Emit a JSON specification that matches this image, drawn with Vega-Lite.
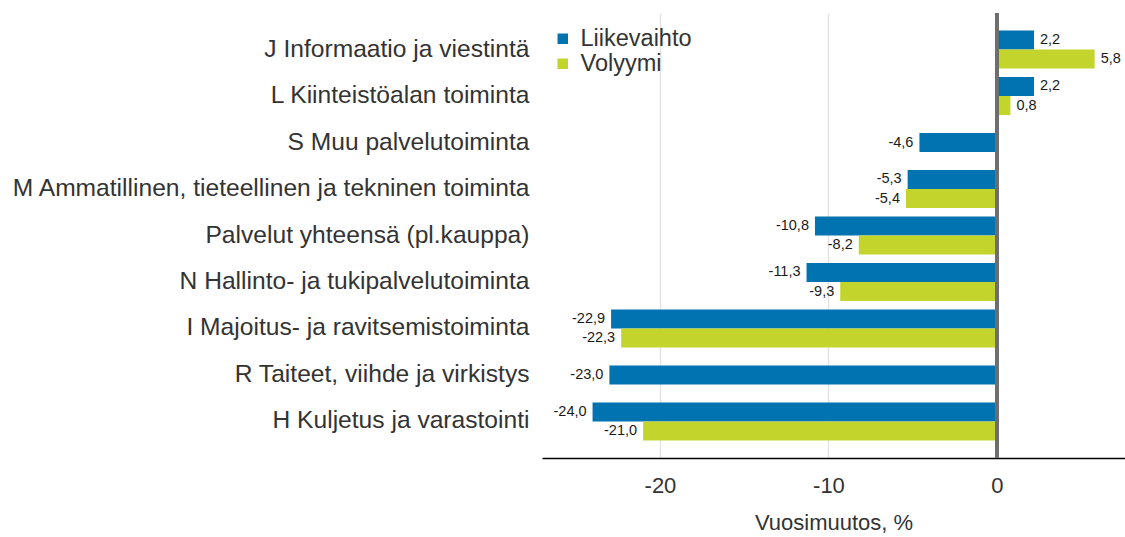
{
  "$schema": "https://vega.github.io/schema/vega-lite/v6.json",
  "autosize": {"type": "none"},
  "padding": {"left": 542, "top": 13, "right": 0, "bottom": 79},
  "width": 583,
  "height": 445,
  "config": {
    "font": "Liberation Sans",
    "view": {"stroke": null},
    "locale": {"number": {"decimal": ",", "thousands": "\u00a0", "grouping": [3], "currency": ["", "\u00a0€"], "minus": "-"}}
  },
  "data": {"values": [
    {"category": "J Informaatio ja viestintä", "series": "Liikevaihto", "value": 2.2},
    {"category": "J Informaatio ja viestintä", "series": "Volyymi", "value": 5.8},
    {"category": "L Kiinteistöalan toiminta", "series": "Liikevaihto", "value": 2.2},
    {"category": "L Kiinteistöalan toiminta", "series": "Volyymi", "value": 0.8},
    {"category": "S Muu palvelutoiminta", "series": "Liikevaihto", "value": -4.6},
    {"category": "M Ammatillinen, tieteellinen ja tekninen toiminta", "series": "Liikevaihto", "value": -5.3},
    {"category": "M Ammatillinen, tieteellinen ja tekninen toiminta", "series": "Volyymi", "value": -5.4},
    {"category": "Palvelut yhteensä (pl.kauppa)", "series": "Liikevaihto", "value": -10.8},
    {"category": "Palvelut yhteensä (pl.kauppa)", "series": "Volyymi", "value": -8.2},
    {"category": "N Hallinto- ja tukipalvelutoiminta", "series": "Liikevaihto", "value": -11.3},
    {"category": "N Hallinto- ja tukipalvelutoiminta", "series": "Volyymi", "value": -9.3},
    {"category": "I Majoitus- ja ravitsemistoiminta", "series": "Liikevaihto", "value": -22.9},
    {"category": "I Majoitus- ja ravitsemistoiminta", "series": "Volyymi", "value": -22.3},
    {"category": "R Taiteet, viihde ja virkistys", "series": "Liikevaihto", "value": -23.0},
    {"category": "H Kuljetus ja varastointi", "series": "Liikevaihto", "value": -24.0},
    {"category": "H Kuljetus ja varastointi", "series": "Volyymi", "value": -21.0}
  ]},
  "transform": [{"joinaggregate": [{"op": "count", "as": "n"}], "groupby": ["category"]}],
  "encoding": {
    "y": {
      "field": "category", "type": "nominal",
      "sort": ["J Informaatio ja viestintä", "L Kiinteistöalan toiminta", "S Muu palvelutoiminta", "M Ammatillinen, tieteellinen ja tekninen toiminta", "Palvelut yhteensä (pl.kauppa)", "N Hallinto- ja tukipalvelutoiminta", "I Majoitus- ja ravitsemistoiminta", "R Taiteet, viihde ja virkistys", "H Kuljetus ja varastointi"],
      "scale": {"paddingInner": 0.18, "paddingOuter": 0.375},
      "axis": {"title": null, "domain": false, "ticks": false, "labelFontSize": 24.6, "labelColor": "#333333", "labelPadding": 13, "labelLimit": 600}
    },
    "x": {
      "field": "value", "type": "quantitative",
      "scale": {"domain": [-27, 7.6], "nice": false, "zero": false},
      "axis": {"title": "Vuosimuutos, %", "values": [-20, -10, 0], "format": "d", "domainColor": "#000000", "domainWidth": 1.5, "ticks": false, "labelFontSize": 22, "labelColor": "#333333", "labelPadding": 17, "titleFontSize": 22, "titleFontWeight": "normal", "titleColor": "#333333", "titlePadding": 16, "gridColor": "#e3e3e3", "gridWidth": 1.5}
    },
    "color": {
      "field": "series", "type": "nominal",
      "scale": {"domain": ["Liikevaihto", "Volyymi"], "range": ["#0073b0", "#c3d52d"]},
      "legend": {"title": null, "orient": "none", "legendX": 9, "legendY": 14, "symbolType": "square", "symbolSize": 110, "symbolStrokeWidth": 0, "labelFontSize": 23.5, "labelColor": "#333333", "labelOffset": 6, "rowPadding": 0}
    }
  },
  "layer": [
    {
      "transform": [{"filter": "datum.n == 2"}],
      "mark": {"type": "bar"},
      "encoding": {"yOffset": {"field": "series", "scale": {"paddingInner": 0, "paddingOuter": 0}}}
    },
    {
      "transform": [{"filter": "datum.n == 1"}],
      "mark": {"type": "bar", "height": {"band": 0.5}}
    },
    {
      "transform": [{"filter": "datum.n == 2 && datum.value >= 0"}],
      "mark": {"type": "text", "align": "left", "dx": 6, "fontSize": 14.5, "fill": "#1a1a1a"},
      "encoding": {"yOffset": {"field": "series"}, "text": {"field": "value", "format": ".1f"}, "color": {"value": "#1a1a1a"}}
    },
    {
      "transform": [{"filter": "datum.n == 2 && datum.value < 0"}],
      "mark": {"type": "text", "align": "right", "dx": -6, "fontSize": 14.5, "fill": "#1a1a1a"},
      "encoding": {"yOffset": {"field": "series"}, "text": {"field": "value", "format": ".1f"}, "color": {"value": "#1a1a1a"}}
    },
    {
      "transform": [{"filter": "datum.n == 1"}],
      "mark": {"type": "text", "align": "right", "dx": -6, "fontSize": 14.5, "fill": "#1a1a1a"},
      "encoding": {"text": {"field": "value", "format": ".1f"}, "color": {"value": "#1a1a1a"}}
    },
    {
      "mark": {"type": "rule", "color": "#6e6e6e", "strokeWidth": 2.5},
      "encoding": {"x": {"datum": 0}, "y": {"value": 0}, "y2": {"value": 445}, "color": {"value": "#6e6e6e"}}
    }
  ]
}
